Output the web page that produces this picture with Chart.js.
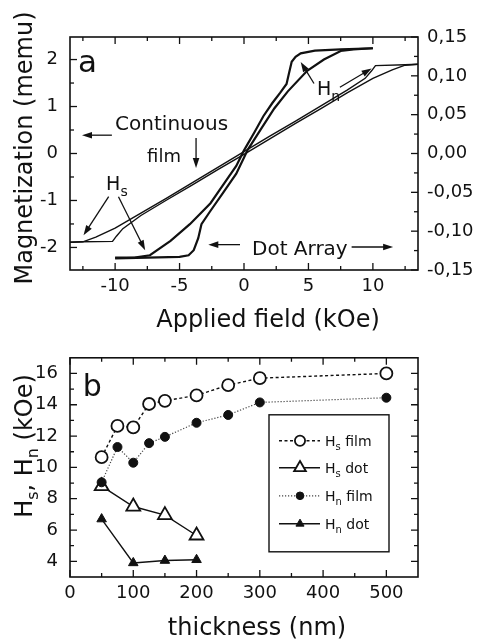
<!DOCTYPE html>
<html>
<head>
<meta charset="utf-8">
<script src="https://cdn.jsdelivr.net/npm/chart.js@4/dist/chart.umd.min.js"></script>
<style>
  html, body { margin: 0; padding: 0; background: #fff; }
  canvas { display: block; }
</style>
</head>
<body>
<canvas id="loopChart" width="483" height="335"></canvas>
<canvas id="thickChart" width="483" height="306"></canvas>
<script>
// ---- panel a : hysteresis loops ----
var fieldTicks = [-10, -5, 0, 5, 10];
var fieldMinor = [-12.5, -7.5, -2.5, 2.5, 7.5, 12.5];
var memuTicks = [-2, -1, 0, 1, 2];
var memuMinor = [-1.5, -0.5, 0.5, 1.5];
var rightTicks = [-0.15, -0.1, -0.05, 0, 0.05, 0.1, 0.15];
var rightMinor = [-0.125, -0.075, -0.025, 0.025, 0.075, 0.125];

// continuous film (left axis, memu)
var filmDownH = [13.5, 12.5, 10.2, 9.9, 9.4, 8, 6, 4, 2, 0, -2, -4, -6, -8, -10, -11.5, -12.5, -13.5];
var filmDownM = [1.9, 1.89, 1.87, 1.76, 1.6, 1.35, 1.02, 0.69, 0.37, 0.04, -0.29, -0.62, -0.95, -1.27, -1.59, -1.78, -1.88, -1.89];
var filmUpH = [-13.5, -12.5, -10.2, -9.9, -9.4, -8, -6, -4, -2, 0, 2, 4, 6, 8, 10, 11.5, 12.5, 13.5];
var filmUpM = [-1.89, -1.88, -1.87, -1.76, -1.6, -1.32, -0.99, -0.67, -0.34, -0.02, 0.31, 0.64, 0.96, 1.29, 1.6, 1.78, 1.88, 1.9];

// dot array (right axis)
var dotDownH = [10, 7.5, 5.5, 4.4, 4.0, 3.7, 3.5, 3.3, 2.8, 2.2, 1.5, 0.8, 0, -0.6, -1.35, -2.6, -4.2, -5.7, -7.3, -8.5, -10];
var dotDownM = [0.1355, 0.134, 0.1325, 0.129, 0.1245, 0.118, 0.104, 0.0895, 0.078, 0.065, 0.048, 0.027, 0.004, -0.016, -0.034, -0.064, -0.091, -0.1125, -0.131, -0.134, -0.134];
var dotUpH = [-10, -7.5, -5, -4.3, -3.9, -3.55, -3.3, -2.65, -1.6, -0.6, 0.3, 1.3, 2.35, 3.4, 4.9, 6.2, 7.5, 8.5, 10];
var dotUpM = [-0.135, -0.134, -0.133, -0.131, -0.1245, -0.109, -0.091, -0.075, -0.05, -0.026, 0.005, 0.031, 0.058, 0.080, 0.1065, 0.121, 0.132, 0.134, 0.1355];

// ---- panel b : fields vs thickness ----
var thickTicks = [0, 100, 200, 300, 400, 500];
var thickMinor = [50, 150, 250, 350, 450];
var kOeTicks = [4, 6, 8, 10, 12, 14, 16];
var kOeMinor = [5, 7, 9, 11, 13, 15];

var filmThick = [50, 75, 100, 125, 150, 200, 250, 300, 500];
var hsFilm = [10.65, 12.65, 12.55, 14.05, 14.25, 14.6, 15.25, 15.7, 16.0];
var hnFilm = [9.05, 11.3, 10.3, 11.55, 11.95, 12.85, 13.35, 14.15, 14.45];
var dotThick = [50, 100, 150, 200];
var hsDot = [8.8, 7.5, 6.95, 5.65];
var hnDot = [6.7, 3.9, 4.05, 4.1];

var FONT = "'DejaVu Sans', sans-serif";
var INK = '#111';

function pts(xs, ys) {
  return xs.map(function (x, i) { return { x: x, y: ys[i] }; });
}
function fixedTicks(list) {
  return function (scale) {
    scale.ticks = list.map(function (v) { return { value: v }; });
  };
}

// draws text pieces (with subscripts) at a point, optionally rotated
function richText(ctx, parts, x, y, rotate, align) {
  ctx.save();
  ctx.translate(x, y);
  if (rotate) ctx.rotate(-Math.PI / 2);
  ctx.textBaseline = 'alphabetic';
  ctx.textAlign = 'left';
  ctx.fillStyle = INK;
  var w = 0;
  parts.forEach(function (p) {
    ctx.font = p[1] + 'px ' + FONT;
    w += ctx.measureText(p[0]).width;
  });
  var cx = align === 'left' ? 0 : -w / 2;
  parts.forEach(function (p) {
    ctx.font = p[1] + 'px ' + FONT;
    ctx.fillText(p[0], cx, p[2] || 0);
    cx += ctx.measureText(p[0]).width;
  });
  ctx.restore();
}

function arrow(ctx, x1, y1, x2, y2) {
  var ang = Math.atan2(y2 - y1, x2 - x1), L = 10, W = 3.3;
  var c = Math.cos(ang), s = Math.sin(ang);
  ctx.beginPath();
  ctx.moveTo(x1, y1);
  ctx.lineTo(x2 - c * L * 0.7, y2 - s * L * 0.7);
  ctx.stroke();
  ctx.beginPath();
  ctx.moveTo(x2, y2);
  ctx.lineTo(x2 - L * c + W * s, y2 - L * s - W * c);
  ctx.lineTo(x2 - L * c - W * s, y2 - L * s + W * c);
  ctx.closePath();
  ctx.fill();
}

// box round the plot plus inward tick marks
function frameAndTicks(chart, specs) {
  var a = chart.chartArea, ctx = chart.ctx;
  ctx.save();
  ctx.strokeStyle = INK;
  ctx.lineWidth = 1.6;
  ctx.strokeRect(a.left, a.top, a.right - a.left, a.bottom - a.top);
  ctx.lineWidth = 1.3;
  specs.forEach(function (sp) {
    var s = chart.scales[sp.id];
    [[sp.major, 7], [sp.minor, 4]].forEach(function (set) {
      set[0].forEach(function (v) {
        var p = s.getPixelForValue(v);
        var len = set[1];
        ctx.beginPath();
        if (s.isHorizontal()) {
          ctx.moveTo(p, a.bottom); ctx.lineTo(p, a.bottom - len);
          if (sp.mirror) { ctx.moveTo(p, a.top); ctx.lineTo(p, a.top + len); }
        } else {
          var left = s.position === 'left';
          var e = left ? a.left : a.right, d = left ? 1 : -1;
          ctx.moveTo(e, p); ctx.lineTo(e + d * len, p);
          if (sp.mirror) {
            var e2 = left ? a.right : a.left;
            ctx.moveTo(e2, p); ctx.lineTo(e2 - d * len, p);
          }
        }
        ctx.stroke();
      });
    });
  });
  ctx.restore();
}

function tickFont() {
  return { font: { family: FONT, size: 18 }, color: INK, maxRotation: 0, autoSkip: false };
}
var noGrid = { display: false, drawTicks: false };

var panelA = {
  id: 'panelA',
  afterDatasetsDraw: function (chart) {
    var ctx = chart.ctx, sx = chart.scales.x, sy = chart.scales.y;
    function X(v) { return sx.getPixelForValue(v); }
    function Y(v) { return sy.getPixelForValue(v); }
    frameAndTicks(chart, [
      { id: 'x', major: fieldTicks, minor: fieldMinor, mirror: true },
      { id: 'y', major: memuTicks, minor: memuMinor },
      { id: 'y2', major: rightTicks, minor: rightMinor }
    ]);
    richText(ctx, [['Applied field (kOe)', 24]], 268, 327);
    richText(ctx, [['Magnetization (memu)', 24]], 32, 148, true);

    richText(ctx, [['a', 31]], X(-12.87), Y(1.73), false, 'left');
    richText(ctx, [['Continuous', 20]], X(-10.0), Y(0.5), false, 'left');
    richText(ctx, [['film', 18]], X(-7.52), Y(-0.18), false, 'left');
    richText(ctx, [['Dot Array', 20]], X(0.62), Y(-2.16), false, 'left');
    richText(ctx, [['H', 19], ['s', 14, 6]], X(-10.7), Y(-0.78), false, 'left');
    richText(ctx, [['H', 19], ['n', 14, 6]], X(5.66), Y(1.245), false, 'left');

    ctx.save();
    ctx.strokeStyle = INK;
    ctx.fillStyle = INK;
    ctx.lineWidth = 1.3;
    arrow(ctx, X(-10.25), Y(0.39), X(-12.57), Y(0.39));
    arrow(ctx, X(-3.72), Y(0.33), X(-3.72), Y(-0.31));
    arrow(ctx, X(-10.5), Y(-0.92), X(-12.45), Y(-1.74));
    arrow(ctx, X(-9.74), Y(-0.92), X(-7.67), Y(-2.06));
    arrow(ctx, X(-0.31), Y(-1.94), X(-2.77), Y(-1.94));
    arrow(ctx, X(8.35), Y(-1.99), X(11.57), Y(-1.99));
    arrow(ctx, X(7.44), Y(1.41), X(9.9), Y(1.81));
    arrow(ctx, X(5.43), Y(1.49), X(4.4), Y(1.95));
    ctx.restore();
  }
};

new Chart(document.getElementById('loopChart'), {
  type: 'scatter',
  data: {
    datasets: [
      { label: 'film descending', data: pts(filmDownH, filmDownM), yAxisID: 'y', showLine: true,
        borderColor: INK, borderWidth: 1.4, pointRadius: 0, tension: 0 },
      { label: 'film ascending', data: pts(filmUpH, filmUpM), yAxisID: 'y', showLine: true,
        borderColor: INK, borderWidth: 1.4, pointRadius: 0, tension: 0 },
      { label: 'dot descending', data: pts(dotDownH, dotDownM), yAxisID: 'y2', showLine: true,
        borderColor: INK, borderWidth: 2.2, pointRadius: 0, tension: 0 },
      { label: 'dot ascending', data: pts(dotUpH, dotUpM), yAxisID: 'y2', showLine: true,
        borderColor: INK, borderWidth: 2.2, pointRadius: 0, tension: 0 }
    ]
  },
  options: {
    responsive: false,
    animation: false,
    events: [],
    layout: { padding: { top: 37 } },
    plugins: { legend: { display: false }, tooltip: { enabled: false } },
    scales: {
      x: {
        type: 'linear', position: 'bottom', min: -13.5, max: 13.5,
        afterBuildTicks: fixedTicks(fieldTicks),
        afterFit: function (s) { s.height = 65; },
        grid: noGrid, border: { display: false },
        ticks: Object.assign(tickFont(), { padding: 6 })
      },
      y: {
        type: 'linear', position: 'left', min: -2.48, max: 2.48,
        afterBuildTicks: fixedTicks(memuTicks),
        afterFit: function (s) { s.width = 70; },
        grid: noGrid, border: { display: false },
        ticks: Object.assign(tickFont(), { padding: 12 })
      },
      y2: {
        type: 'linear', position: 'right', min: -0.15, max: 0.15,
        afterBuildTicks: fixedTicks(rightTicks),
        afterFit: function (s) { s.width = 65; },
        grid: noGrid, border: { display: false },
        ticks: Object.assign(tickFont(), {
          padding: 9,
          callback: function (v) { return v.toFixed(2).replace('.', ','); }
        })
      }
    }
  },
  plugins: [panelA]
});

// ---- panel b ----
function drawMarker(ctx, ds, x, y, scale) {
  var opts = { pointStyle: ds.pointStyle, radius: ds.pointRadius * scale, borderWidth: ds.pointBorderWidth, rotation: 0 };
  ctx.fillStyle = ds.pointBackgroundColor;
  ctx.strokeStyle = ds.pointBorderColor;
  ctx.lineWidth = ds.pointBorderWidth;
  if (Chart.helpers && Chart.helpers.drawPoint) {
    Chart.helpers.drawPoint(ctx, opts, x, y);
  }
}

var panelB = {
  id: 'panelB',
  afterDatasetsDraw: function (chart) {
    var ctx = chart.ctx, a = chart.chartArea, sx = chart.scales.x, sy = chart.scales.y;
    frameAndTicks(chart, [
      { id: 'x', major: thickTicks, minor: thickMinor, mirror: true },
      { id: 'y', major: kOeTicks, minor: kOeMinor, mirror: true }
    ]);
    richText(ctx, [['thickness (nm)', 24]], 257, 300);
    richText(ctx, [['H', 24], ['s', 16, 6], [', H', 24], ['n', 16, 6], [' (kOe)', 24]], 32, 111, true);
    richText(ctx, [['b', 30]], sx.getPixelForValue(20), sy.getPixelForValue(14.57), false, 'left');

    // legend box
    var bx = a.right - 149, by = a.top + 57;
    ctx.save();
    ctx.fillStyle = '#fff';
    ctx.fillRect(bx, by, 120, 137);
    ctx.strokeStyle = INK;
    ctx.lineWidth = 1.4;
    ctx.strokeRect(bx, by, 120, 137);
    var rows = [26, 53, 81, 109];
    var subs = [['s', ' film'], ['s', ' dot'], ['n', ' film'], ['n', ' dot']];
    chart.data.datasets.forEach(function (ds, i) {
      var yy = by + rows[i];
      ctx.save();
      ctx.strokeStyle = ds.borderColor;
      ctx.lineWidth = ds.borderWidth;
      ctx.setLineDash(ds.borderDash || []);
      ctx.beginPath();
      ctx.moveTo(bx + 10, yy);
      ctx.lineTo(bx + 51, yy);
      ctx.stroke();
      ctx.setLineDash([]);
      drawMarker(ctx, ds, bx + 31, yy, 0.85);
      ctx.restore();
      richText(ctx, [['H', 14], [subs[i][0], 10, 4], [subs[i][1], 14]], bx + 56, yy + 5, false, 'left');
    });
    ctx.restore();
  }
};

new Chart(document.getElementById('thickChart'), {
  type: 'scatter',
  data: {
    datasets: [
      { label: 'Hs film', data: pts(filmThick, hsFilm), showLine: true, order: 0,
        borderColor: INK, borderWidth: 1.4, borderDash: [3, 2.5],
        pointStyle: 'circle', pointRadius: 6, pointBorderWidth: 1.8,
        pointBackgroundColor: '#fff', pointBorderColor: INK },
      { label: 'Hs dot', data: pts(dotThick, hsDot), showLine: true, order: 2,
        borderColor: INK, borderWidth: 1.4, borderDash: [],
        pointStyle: 'triangle', pointRadius: 8, pointBorderWidth: 1.8,
        pointBackgroundColor: '#fff', pointBorderColor: INK },
      { label: 'Hn film', data: pts(filmThick, hnFilm), showLine: true, order: 1,
        borderColor: '#444', borderWidth: 1.2, borderDash: [1.2, 1.8],
        pointStyle: 'circle', pointRadius: 4.5, pointBorderWidth: 1,
        pointBackgroundColor: INK, pointBorderColor: INK },
      { label: 'Hn dot', data: pts(dotThick, hnDot), showLine: true, order: 3,
        borderColor: INK, borderWidth: 1.4, borderDash: [],
        pointStyle: 'triangle', pointRadius: 5.5, pointBorderWidth: 1,
        pointBackgroundColor: INK, pointBorderColor: INK }
    ]
  },
  options: {
    responsive: false,
    animation: false,
    events: [],
    layout: { padding: { top: 8, right: 65 } },
    plugins: { legend: { display: false }, tooltip: { enabled: false } },
    scales: {
      x: {
        type: 'linear', position: 'bottom', min: 0, max: 550,
        afterBuildTicks: fixedTicks(thickTicks),
        afterFit: function (s) { s.height = 64; },
        grid: noGrid, border: { display: false },
        ticks: Object.assign(tickFont(), { padding: 6 })
      },
      y: {
        type: 'linear', position: 'left', min: 3, max: 17,
        afterBuildTicks: fixedTicks(kOeTicks),
        afterFit: function (s) { s.width = 70; },
        grid: noGrid, border: { display: false },
        ticks: Object.assign(tickFont(), { padding: 12 })
      }
    }
  },
  plugins: [panelB]
});
</script>
</body>
</html>
